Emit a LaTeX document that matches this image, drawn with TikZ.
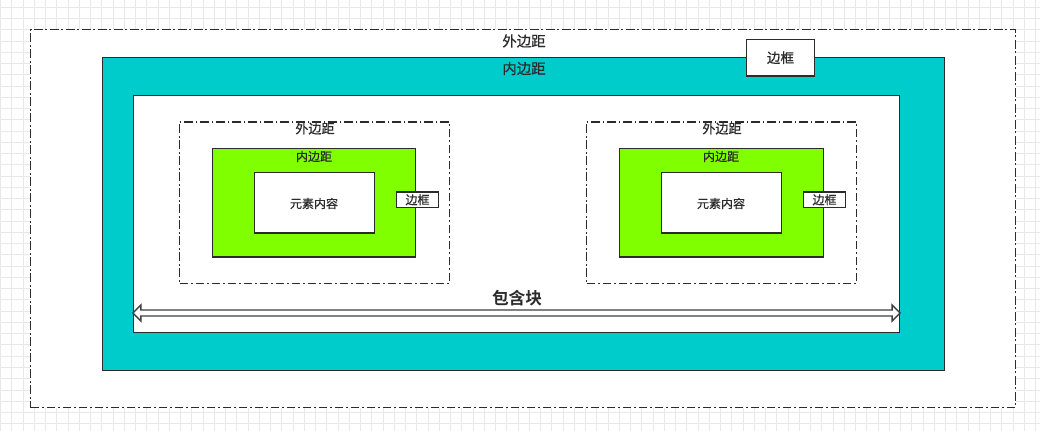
\documentclass[tikz,border=0pt]{standalone}
\usepackage{fontspec}
\newfontfamily\cjk[FakeBold=0.6]{Noto Sans CJK SC}
\newfontfamily\cjkb{Noto Sans CJK SC Bold}
\usetikzlibrary{fit,calc}
\definecolor{teal1}{HTML}{00CCCC}
\definecolor{lime1}{HTML}{80FF00}
\definecolor{ink}{HTML}{2B2B2B}
\definecolor{gridc}{HTML}{E8E8E8}
\tikzset{
  gridline/.style={gridc, line width=0.75pt},
  base/.style={inner sep=0pt, line width=0.9pt, draw=ink},
  dashbox/.style={base, fill=white, dash pattern=on 6.5pt off 2.2pt on 1.1pt off 2.2pt},
  tealbox/.style={base, fill=teal1},
  limebox/.style={base, fill=lime1},
  whitebox/.style={base, fill=white},
  lbl/.style={inner sep=0pt, text=ink, font=\cjk},
  harrow/.style={draw=ink!90, fill=white, line width=1pt, line join=miter},
}
\begin{document}
\begin{tikzpicture}[x=0.75pt, y=-0.75pt]
\useasboundingbox (0,0) rectangle (1040,431);
\fill[white] (0,0) rectangle (1040,431);
\foreach \i in {0,...,92} \draw[gridline] (\i*11.25+0.5,0) -- (\i*11.25+0.5,431);
\foreach \j in {0,...,38} \draw[gridline] (0,\j*11.25+7.5) -- (1040,\j*11.25+7.5);

% outer margin
\node[dashbox, fit={(30.5,29.5)(1015.5,407.5)}] (outer) {};
\node[lbl, font=\cjk\fontsize{10.8pt}{12pt}\selectfont] (om) at (524,41) {外边距};
% padding (teal) + content
\node[tealbox, fit={(102.5,57.5)(944.5,370.5)}] (pad) {};
\node[lbl, font=\cjk\fontsize{10.8pt}{12pt}\selectfont] (pm) at (524,68.5) {内边距};
\node[whitebox, fit={(133.5,95.5)(899.5,332.5)}] (inner) {};
% border label box
\node[whitebox, fit={(746.5,39.5)(814.5,76)}] (bbox) {};
\node[lbl, font=\cjk\fontsize{10.2pt}{12pt}\selectfont] (btxt) at (bbox.center) {边框};

% left element
\node[dashbox, fit={(179.5,122)(449.5,283.5)}] (lo) {};
\node[lbl, font=\cjk\fontsize{9.8pt}{12pt}\selectfont] (lom) at (315,128.5) {外边距};
\node[limebox, fit={(212.5,148.5)(415.5,257)}] (lp) {};
\node[lbl, font=\cjk\fontsize{9pt}{11pt}\selectfont] (lpm) at (314,156.5) {内边距};
\node[whitebox, fit={(254.5,172.5)(374.5,233)}] (lc) {};
\node[lbl, font=\cjk\fontsize{9pt}{11pt}\selectfont] (lct) at (314,203.5) {元素内容};
\node[whitebox, line width=0.8pt, fit={(396.5,192)(438.5,207.5)}] (lb) {};
\node[lbl, font=\cjk\fontsize{9pt}{11pt}\selectfont] (lbt) at (lb.center) {边框};

% right element
\node[dashbox, fit={(586.5,122)(856.5,283.5)}] (ro) {};
\node[lbl, font=\cjk\fontsize{9.8pt}{12pt}\selectfont] (rom) at (722,128.5) {外边距};
\node[limebox, fit={(619.5,148.5)(823.5,257)}] (rp) {};
\node[lbl, font=\cjk\fontsize{9pt}{11pt}\selectfont] (rpm) at (721,156.5) {内边距};
\node[whitebox, fit={(661.5,172.5)(781.5,233)}] (rc) {};
\node[lbl, font=\cjk\fontsize{9pt}{11pt}\selectfont] (rct) at (721,203.5) {元素内容};
\node[whitebox, line width=0.8pt, fit={(803.5,192)(845.5,207.5)}] (rb) {};
\node[lbl, font=\cjk\fontsize{9pt}{11pt}\selectfont] (rbt) at (rb.center) {边框};

% containing block arrow
\coordinate (aL) at (inner.west |- 0,313);
\coordinate (aR) at (inner.east |- 0,313);
\draw[harrow] (aL) -- ($(aL)+(8,-8)$) -- ($(aL)+(8,-3)$) -- ($(aR)+(-8,-3)$) -- ($(aR)+(-8,-8)$) -- (aR)
  -- ($(aR)+(-8,8)$) -- ($(aR)+(-8,3)$) -- ($(aL)+(8,3)$) -- ($(aL)+(8,8)$) -- cycle;
\node[lbl, font=\cjkb\fontsize{12.5pt}{14pt}\selectfont] (cb) at (517,298) {包含块};
\end{tikzpicture}
\end{document}
